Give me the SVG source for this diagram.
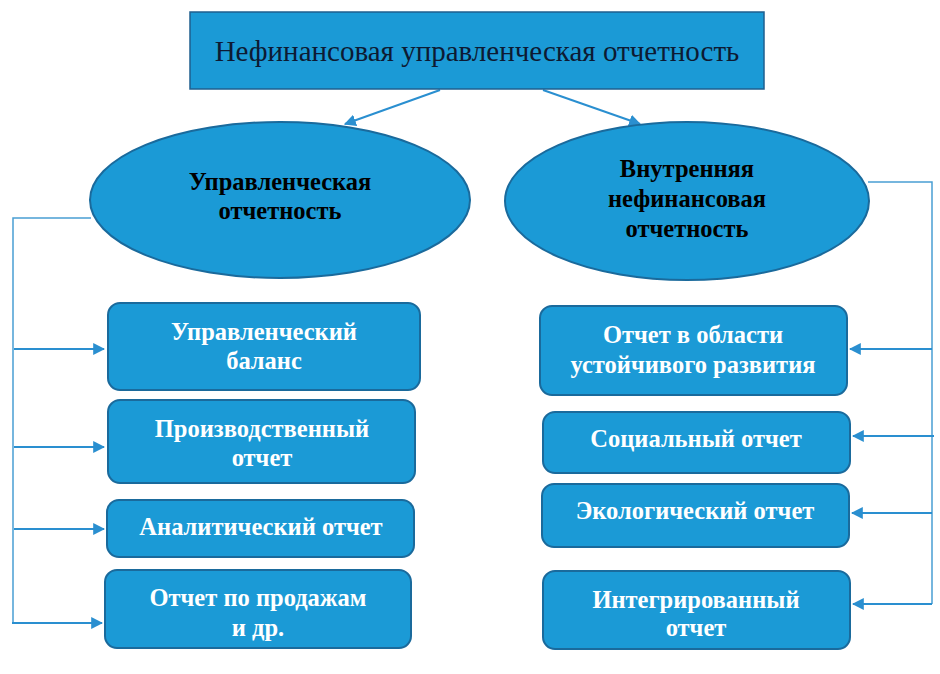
<svg xmlns="http://www.w3.org/2000/svg" width="940" height="674" viewBox="0 0 940 674">
<defs>
<marker id="ah" viewBox="0 0 10 10" refX="9" refY="5" markerWidth="6" markerHeight="6" orient="auto" markerUnits="strokeWidth">
<path d="M0,0 L10,5 L0,10 z" fill="#2a8fd0"/>
</marker>
</defs>
<style>
.node{fill:#1b9ad6;stroke:#1a6a9c;stroke-width:2}
.top{fill:#1b9ad6;stroke:#1f5f8f;stroke-width:1.5}
.t{font-family:"Liberation Serif","Times New Roman",serif;text-anchor:middle}
.w{fill:#ffffff;font-weight:bold;font-size:24.5px}
.b{fill:#000000;font-weight:bold;font-size:24.5px}
.h{fill:#0d1a33;font-size:29px}
.ln{stroke:#4a9fd3;stroke-width:1.5;fill:none}
.ar{stroke:#2a8fd0;stroke-width:2;fill:none;marker-end:url(#ah)}
</style>
<rect width="940" height="674" fill="#ffffff"/>
<g id="connectors">
<line class="ar" x1="440" y1="90" x2="345" y2="124"/>
<line class="ar" x1="543" y1="90" x2="640" y2="124"/>
<polyline class="ln" points="91,218 13,218 13,623"/>
<line class="ar" x1="14" y1="349" x2="104" y2="349"/>
<line class="ar" x1="14" y1="447" x2="104" y2="447"/>
<line class="ar" x1="14" y1="529" x2="104" y2="529"/>
<line class="ar" x1="12" y1="623" x2="102" y2="623"/>
<polyline class="ln" points="868,182 932,182 932,604"/>
<line class="ar" x1="932" y1="349" x2="850" y2="349"/>
<line class="ar" x1="934" y1="436" x2="853" y2="436"/>
<line class="ar" x1="932" y1="513" x2="852" y2="513"/>
<line class="ar" x1="932" y1="604" x2="853" y2="604"/>
</g>
<g id="n-top">
<rect class="top" x="190" y="12" width="574" height="77"/>
<text class="t h" x="477" y="61">Нефинансовая управленческая отчетность</text>
</g>
<g id="n-mgmt">
<ellipse class="node" cx="280" cy="200" rx="190" ry="78"/>
<text class="t b" x="280" y="190">Управленческая</text>
<text class="t b" x="280" y="219">отчетность</text>
</g>
<g id="n-internal">
<ellipse class="node" cx="687" cy="201" rx="182" ry="79"/>
<text class="t b" x="687" y="177">Внутренняя</text>
<text class="t b" x="687" y="207">нефинансовая</text>
<text class="t b" x="687" y="237">отчетность</text>
</g>
<g id="n-balance">
<rect class="node" x="108" y="303" width="312" height="87" rx="12"/>
<text class="t w" x="264" y="340">Управленческий</text>
<text class="t w" x="264" y="369">баланс</text>
</g>
<g id="n-production">
<rect class="node" x="108" y="400" width="307" height="83" rx="12"/>
<text class="t w" x="262" y="437">Производственный</text>
<text class="t w" x="262" y="466">отчет</text>
</g>
<g id="n-analytic">
<rect class="node" x="107" y="500" width="307" height="57" rx="12"/>
<text class="t w" x="261" y="535">Аналитический отчет</text>
</g>
<g id="n-sales">
<rect class="node" x="105" y="570" width="306" height="78" rx="12"/>
<text class="t w" x="258" y="606">Отчет по продажам</text>
<text class="t w" x="258" y="636">и др.</text>
</g>
<g id="n-sustain">
<rect class="node" x="540" y="306" width="307" height="89" rx="12"/>
<text class="t w" x="693" y="343">Отчет в области</text>
<text class="t w" x="693" y="373">устойчивого развития</text>
</g>
<g id="n-social">
<rect class="node" x="543" y="412" width="307" height="61" rx="12"/>
<text class="t w" x="696" y="447">Социальный отчет</text>
</g>
<g id="n-eco">
<rect class="node" x="542" y="484" width="307" height="63" rx="12"/>
<text class="t w" x="695" y="519">Экологический отчет</text>
</g>
<g id="n-integrated">
<rect class="node" x="543" y="571" width="307" height="78" rx="12"/>
<text class="t w" x="696" y="608">Интегрированный</text>
<text class="t w" x="696" y="636">отчет</text>
</g>
</svg>
